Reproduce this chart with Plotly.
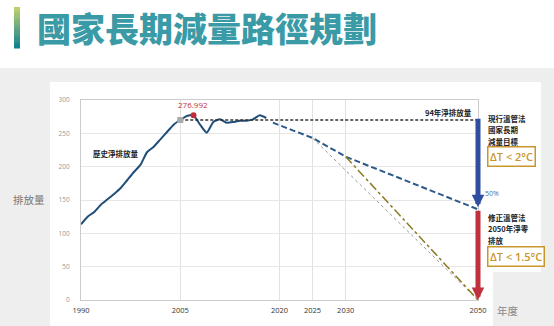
import plotly.graph_objects as go

# ---- data -------------------------------------------------------------
hist_years = list(range(1990, 2019))
hist_values = [113.5, 125, 132, 143, 151, 159, 168, 180, 192, 203,
               222, 230, 241, 252, 263, 270, 276, 277, 263, 251,
               267, 271, 266, 267, 269, 269, 271, 277, 273]

path_years = [2019, 2025, 2030, 2050]
path_values = [266, 243, 215, 136]

fast_years = [2025, 2050]
fast_values = [243, 0]

netzero_years = [2030, 2050]
netzero_values = [215, 0]

base_year = 2005
base_value = 270
peak_year = 2007
peak_value = 276.992

x_ticks = [1990, 2005, 2020, 2025, 2030, 2050]
y_ticks = [0, 50, 100, 150, 200, 250, 300]

W, H = 554, 326
L, R, T, B = 81, 478, 100, 300


def px(x):
    return (x - L) / (R - L)


def py(y):
    return (B - y) / (B - T)


FONT = "Noto Sans CJK TC"
fig = go.Figure()

# historical emissions
fig.add_trace(go.Scatter(x=hist_years, y=hist_values, mode="lines",
                         line=dict(color="#1f4e79", width=2, shape="spline", smoothing=0.6),
                         hoverinfo="skip"))
# 2005 baseline
fig.add_trace(go.Scatter(x=[base_year, 2050], y=[base_value, base_value], mode="lines",
                         line=dict(color="#333333", width=1.3, dash="3px,2px"),
                         hoverinfo="skip"))
# current-law pathway
fig.add_trace(go.Scatter(x=path_years, y=path_values, mode="lines",
                         line=dict(color="#2b5a8a", width=2, dash="6px,3px"),
                         hoverinfo="skip"))
# alternative paths to zero
fig.add_trace(go.Scatter(x=fast_years, y=fast_values, mode="lines",
                         line=dict(color="#999999", width=1, dash="dot"),
                         hoverinfo="skip"))
fig.add_trace(go.Scatter(x=netzero_years, y=netzero_values, mode="lines",
                         line=dict(color="#8c7a22", width=1.5, dash="dashdot"),
                         hoverinfo="skip"))
# markers
fig.add_trace(go.Scatter(x=[base_year], y=[base_value], mode="markers",
                         marker=dict(symbol="square", size=6, color="#aaaaaa"),
                         hoverinfo="skip"))
fig.add_trace(go.Scatter(x=[peak_year], y=[peak_value], mode="markers",
                         marker=dict(symbol="circle", size=6, color="#c0303a"),
                         hoverinfo="skip"))

shapes = []
# page background
shapes.append(dict(type="rect", xref="paper", yref="paper", layer="below",
                   x0=px(0), x1=px(W), y0=py(H), y1=py(68),
                   fillcolor="#eeeeee", line=dict(width=0)))
# white chart panel
shapes.append(dict(type="rect", xref="paper", yref="paper", layer="below",
                   x0=px(50), x1=px(493), y0=py(H), y1=py(82),
                   fillcolor="#ffffff", line=dict(width=0)))
shapes.append(dict(type="rect", xref="paper", yref="paper", layer="below",
                   x0=px(493), x1=px(541), y0=py(272), y1=py(82),
                   fillcolor="#ffffff", line=dict(width=0)))
# title accent bar (gradient)
top_rgb = (190, 206, 110)
bot_rgb = (20, 130, 145)
n = 12
for i in range(n):
    t = i / (n - 1)
    c = tuple(int(top_rgb[k] + (bot_rgb[k] - top_rgb[k]) * t) for k in range(3))
    y0 = 7 + i * (41 / n)
    shapes.append(dict(type="rect", xref="paper", yref="paper", layer="below",
                       x0=px(14), x1=px(20), y0=py(y0 + 41 / n + 0.5), y1=py(y0),
                       fillcolor="rgb(%d,%d,%d)" % c, line=dict(width=0)))

annotations = []
annotations.append(dict(text="國家長期減量路徑規劃", xref="paper", yref="paper",
                        x=px(35), y=py(27), xanchor="left", yanchor="middle",
                        showarrow=False,
                        font=dict(family=FONT, size=34, color="#3a9ba7", weight=900)))
annotations.append(dict(text="排放量", xref="paper", yref="paper",
                        x=px(29), y=py(199), xanchor="center", yanchor="middle",
                        showarrow=False, font=dict(family=FONT, size=10.5, color="#777777")))
annotations.append(dict(text="年度", xref="paper", yref="paper",
                        x=px(508), y=py(310), xanchor="center", yanchor="middle",
                        showarrow=False, font=dict(family=FONT, size=10.5, color="#888888")))
annotations.append(dict(text="歷史淨排放量", xref="paper", yref="paper",
                        x=px(91), y=py(153), xanchor="left", yanchor="middle",
                        showarrow=False, font=dict(family=FONT, size=7.5, color="#222222", weight=700)))
annotations.append(dict(text="94年淨排放量", xref="paper", yref="paper",
                        x=px(474), y=py(113), xanchor="right", yanchor="middle",
                        showarrow=False, font=dict(family=FONT, size=7.5, color="#222222", weight=700)))
annotations.append(dict(text="%.3f" % peak_value, x=peak_year, y=peak_value,
                        xanchor="center", yanchor="bottom", yshift=3,
                        showarrow=False, font=dict(family="Open Sans", size=8, color="#c0303a")))

# reduction arrows at 2050
annotations.append(dict(x=2050, y=139, ax=2050, ay=274, xref="x", yref="y",
                        axref="x", ayref="y", text="", showarrow=True,
                        arrowhead=2, arrowsize=0.5, arrowwidth=5, arrowcolor="#2f4ea0",
                        standoff=0, startstandoff=0))
annotations.append(dict(x=2050, y=0, ax=2050, ay=136, xref="x", yref="y",
                        axref="x", ayref="y", text="", showarrow=True,
                        arrowhead=2, arrowsize=0.5, arrowwidth=5, arrowcolor="#c0313f",
                        standoff=0, startstandoff=0))
annotations.append(dict(text="50%", xref="paper", yref="paper",
                        x=px(483), y=py(193), xanchor="left", yanchor="middle",
                        showarrow=False, font=dict(family="Open Sans", size=7, color="#4a6fb5")))

for text, ycen in [("現行溫管法", 118), ("國家長期", 129.5), ("減量目標", 141)]:
    annotations.append(dict(text=text, xref="paper", yref="paper",
                            x=px(486), y=py(ycen), xanchor="left", yanchor="middle",
                            showarrow=False, font=dict(family=FONT, size=7.5, color="#222222", weight=700)))
for text, ycen in [("修正溫管法", 217), ("2050年淨零", 228.5), ("排放", 240)]:
    annotations.append(dict(text=text, xref="paper", yref="paper",
                            x=px(486), y=py(ycen), xanchor="left", yanchor="middle",
                            showarrow=False, font=dict(family=FONT, size=7.5, color="#222222", weight=700)))

for text, ycen in [("ΔT < 2°C", 156.5), ("ΔT < 1.5°C", 256.5)]:
    annotations.append(dict(text=text, xref="paper", yref="paper",
                            x=px(487), y=py(ycen), xanchor="left", yanchor="middle",
                            showarrow=False, bgcolor="#ffffff",
                            bordercolor="#c9962c", borderwidth=1.5, borderpad=1.5,
                            font=dict(family="Open Sans", size=11, color="#c9962c", weight=600)))

fig.update_layout(
    width=W, height=H,
    margin=dict(l=L, r=W - R, t=T, b=H - B, pad=0),
    paper_bgcolor="#ffffff", plot_bgcolor="rgba(0,0,0,0)",
    showlegend=False,
    shapes=shapes, annotations=annotations,
    xaxis=dict(range=[1990, 2050], tickvals=x_ticks, ticktext=[str(v) for v in x_ticks],
               showgrid=True, gridcolor="#e2e2e2", gridwidth=1,
               zeroline=False, showline=True, linecolor="#cccccc", linewidth=1, mirror=True,
               ticks="outside", ticklen=3, tickcolor="rgba(0,0,0,0)",
               tickfont=dict(family="Open Sans", size=7.5, color="#333333")),
    yaxis=dict(range=[0, 300], tickvals=y_ticks,
               showgrid=True, gridcolor="#e6e6e6", gridwidth=1,
               zeroline=False, showline=True, linecolor="#cccccc", linewidth=1, mirror=True,
               ticks="outside", ticklen=9, tickcolor="rgba(0,0,0,0)",
               tickfont=dict(family="Open Sans", size=6.5, color="#999999")),
)

fig.write_html("out.html")
